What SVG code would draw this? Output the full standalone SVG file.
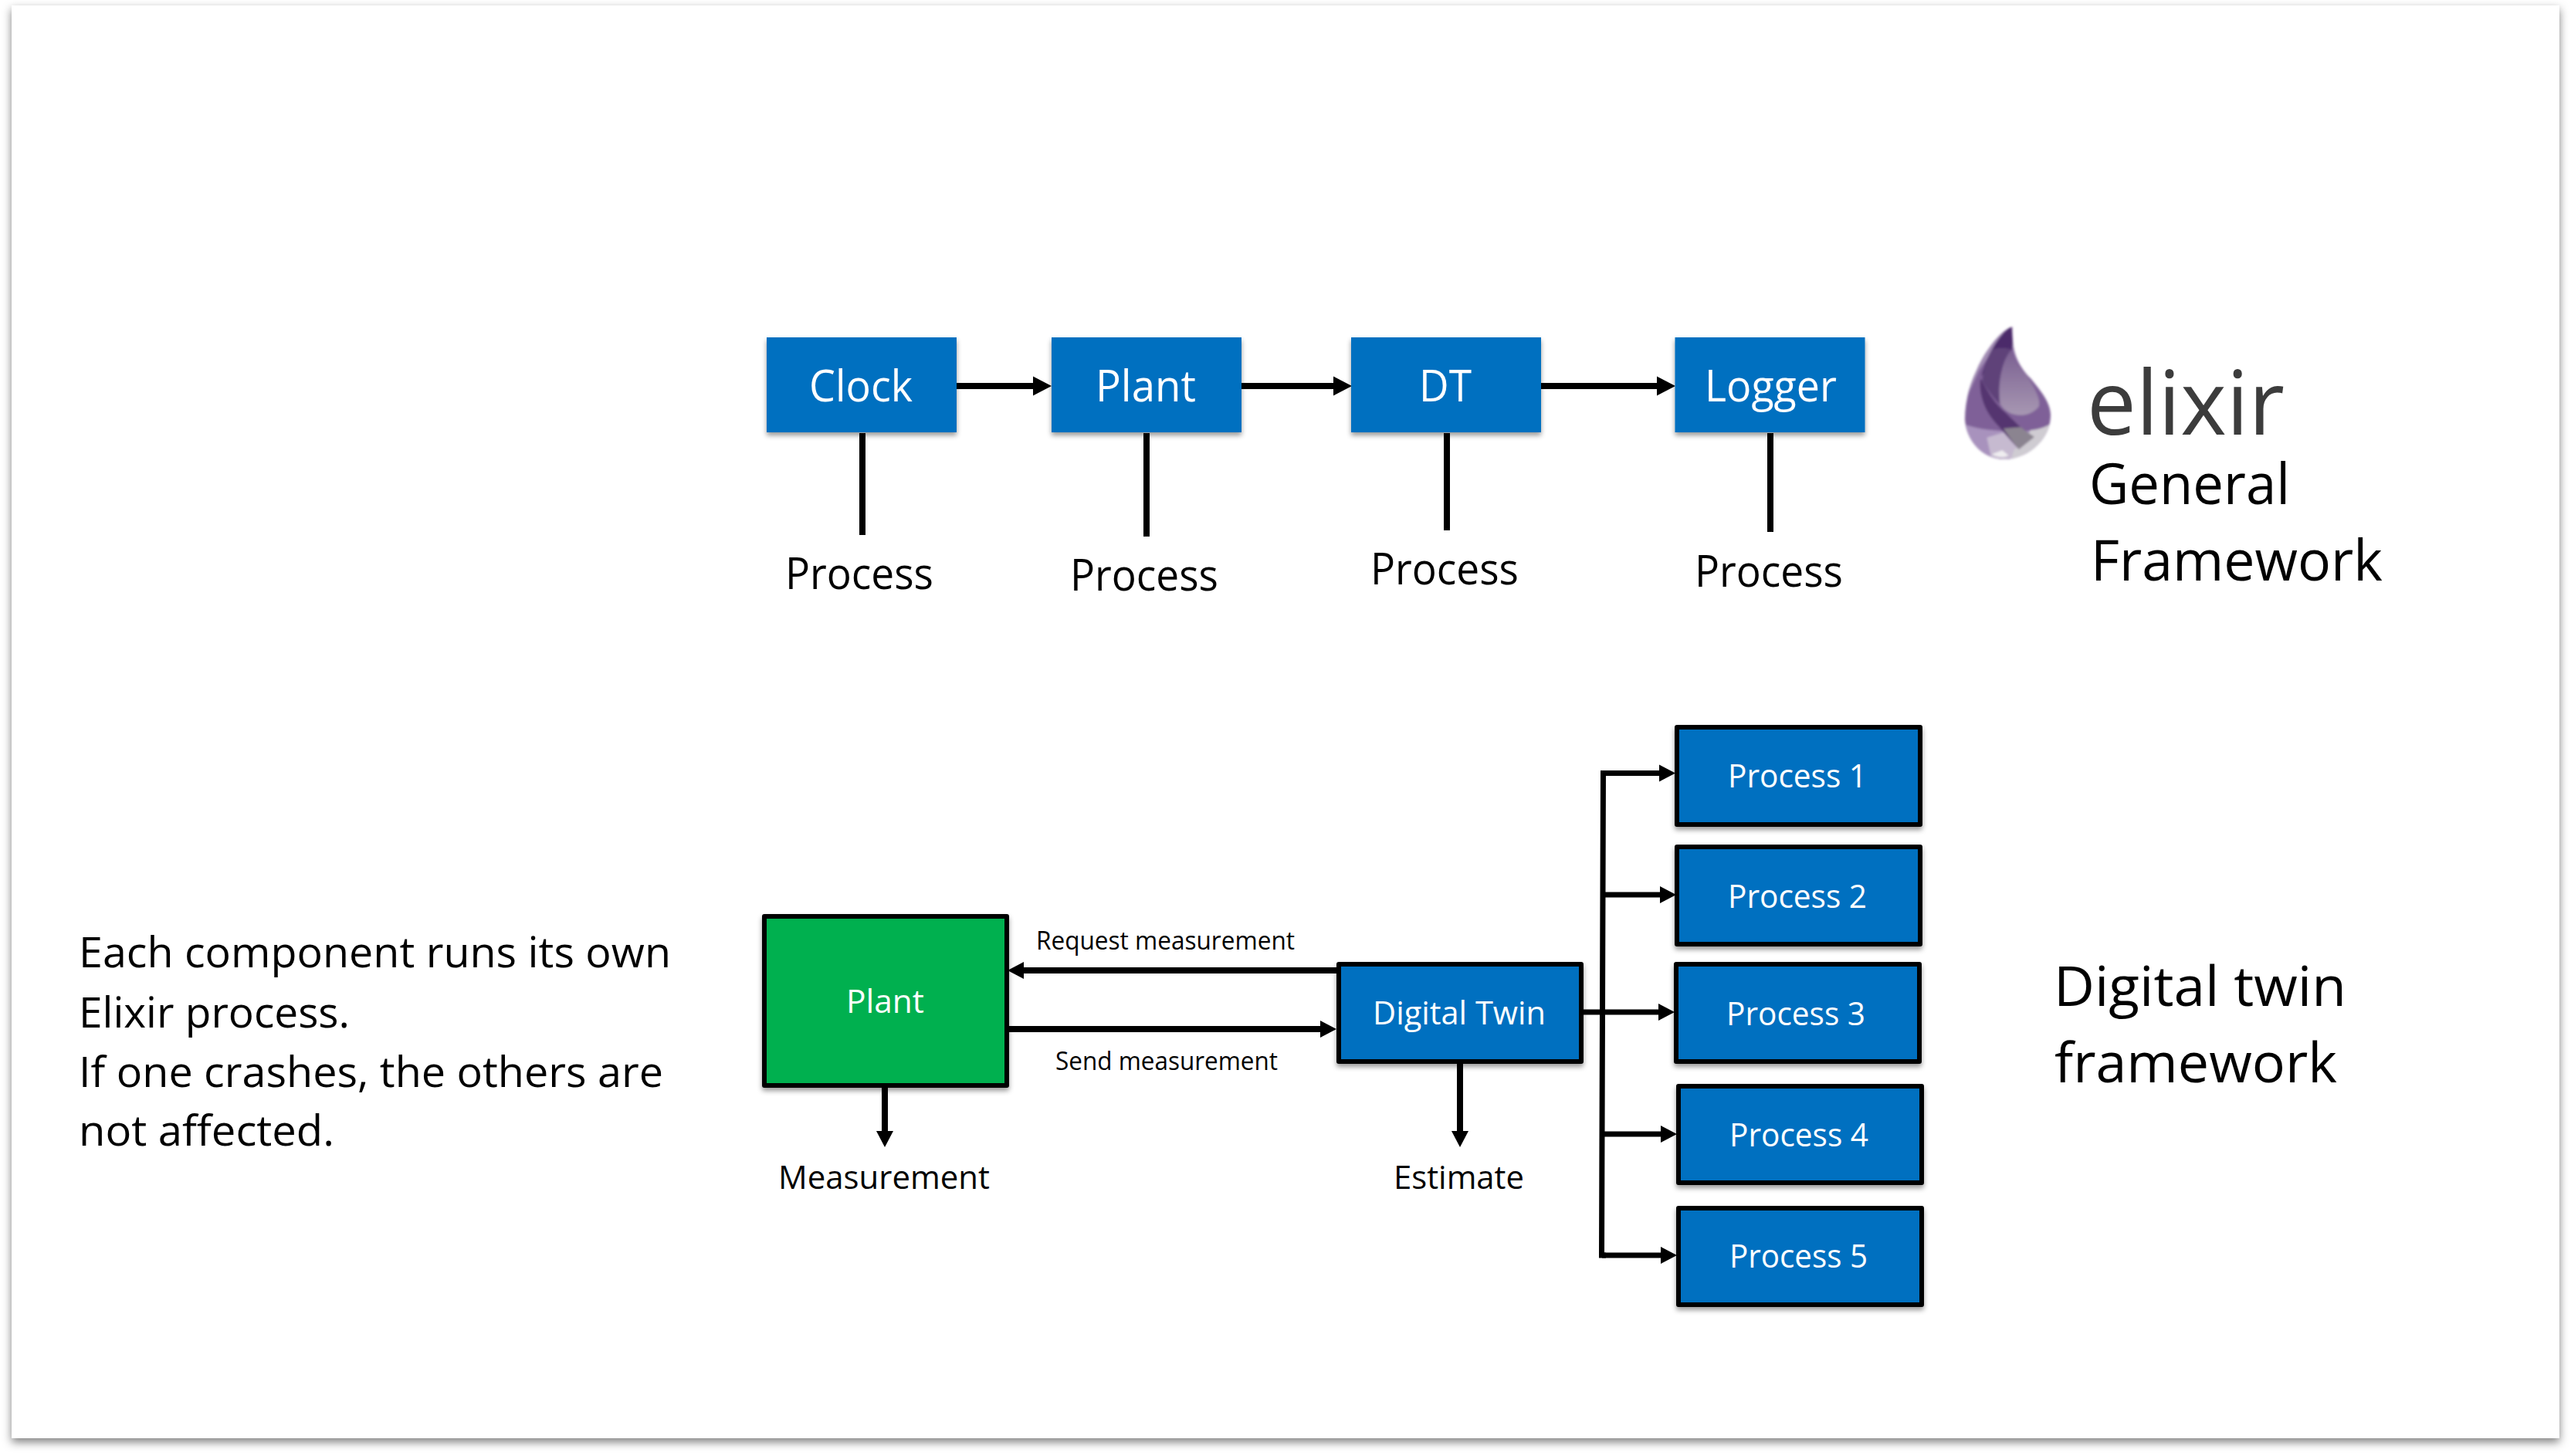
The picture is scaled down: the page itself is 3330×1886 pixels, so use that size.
<svg xmlns="http://www.w3.org/2000/svg" width="3330" height="1886" viewBox="0 0 3330 1886">
<style>
text{font-family:"Open Sans","Noto Sans","Liberation Sans",sans-serif;fill:#000}
.w{fill:#fff}
.box{fill:#0070c0;filter:url(#sh)}
.bk{stroke:#000;stroke-width:6;stroke-linejoin:round}
.gr{fill:#00b050}
.c{fill:none;stroke:#000;stroke-width:8}
.t{marker-end:url(#big)}
.s{marker-end:url(#small)}
.f{stroke-width:7}
</style>
<defs>
<filter id="page" x="-3%" y="-3%" width="106%" height="106%"><feDropShadow dx="0" dy="5" stdDeviation="6" flood-color="#000" flood-opacity="0.5"/></filter>
<filter id="sh" x="-10%" y="-10%" width="120%" height="130%"><feDropShadow dx="0" dy="4" stdDeviation="3" flood-color="#000" flood-opacity="0.4"/></filter>
<filter id="soft" x="-8%" y="-8%" width="116%" height="116%"><feGaussianBlur stdDeviation="4"/></filter>
<linearGradient id="blob" x1="0" y1="0" x2="0" y2="1"><stop offset="0" stop-color="#7a5f91"/><stop offset="1" stop-color="#a797b2"/></linearGradient>
<marker id="big" markerUnits="userSpaceOnUse" markerWidth="26" markerHeight="26" refX="1" refY="13" orient="auto"><path d="M1,0.5 L25,13 L1,25.5 Z" fill="#000"/></marker>
<marker id="small" markerUnits="userSpaceOnUse" markerWidth="24" markerHeight="24" refX="1" refY="12" orient="auto"><path d="M1,1 L22,12 L1,23 Z" fill="#000"/></marker>
<clipPath id="dropclip"><path d="M230,40 C190,50 130,120 90,210 C60,270 45,340 45,400 C50,480 110,555 200,555 C300,550 380,470 378,380 C375,330 340,290 300,240 C250,190 225,130 230,40 Z"/></clipPath>
</defs>

<rect id="slide" x="15" y="7" width="3300" height="1856" fill="#fff" filter="url(#page)"/>

<g id="connectors">
<path class="c t" d="M1239,500 H1338"/>
<path class="c t" d="M1608,500 H1727"/>
<path class="c t" d="M1996,500 H2146"/>
<path class="c" d="M1117,561 V693"/>
<path class="c" d="M1485,561 V695"/>
<path class="c" d="M1874,561 V687"/>
<path class="c" d="M2293,561 V689"/>
<path class="c s" d="M1731,1257 H1326"/>
<path class="c s" d="M1307,1333 H1710"/>
<path class="c s" d="M1146,1409 V1465"/>
<path class="c s" d="M1891,1378 V1465"/>
<path class="c f" d="M2080,1001.500 H2076.500 L2074.500,1626 H2080"/>
<path class="c f s" d="M2076,1001.500 H2149"/>
<path class="c f s" d="M2077,1159 H2150"/>
<path class="c f s" d="M2051,1311 H2148"/>
<path class="c f s" d="M2075,1469 H2151"/>
<path class="c f s" d="M2075,1626 H2151"/>
</g>

<g id="clock"><rect class="box" x="993" y="437" width="246" height="123"/><text class="w" x="1048" y="520" font-size="56" textLength="134" lengthAdjust="spacingAndGlyphs">Clock</text></g>
<g id="plant-top"><rect class="box" x="1362" y="437" width="246" height="123"/><text class="w" x="1419" y="520" font-size="56" textLength="130" lengthAdjust="spacingAndGlyphs">Plant</text></g>
<g id="dt"><rect class="box" x="1750" y="437" width="246" height="123"/><text class="w" x="1838" y="520" font-size="56" textLength="68" lengthAdjust="spacingAndGlyphs">DT</text></g>
<g id="logger"><rect class="box" x="2169.500" y="437" width="246" height="123"/><text class="w" x="2208" y="520" font-size="56" textLength="171" lengthAdjust="spacingAndGlyphs">Logger</text></g>

<g id="process-labels">
<text x="1017" y="763" font-size="56" textLength="192" lengthAdjust="spacingAndGlyphs">Process</text>
<text x="1386" y="765" font-size="56" textLength="192" lengthAdjust="spacingAndGlyphs">Process</text>
<text x="1775" y="757" font-size="56" textLength="192" lengthAdjust="spacingAndGlyphs">Process</text>
<text x="2195" y="760" font-size="56" textLength="192" lengthAdjust="spacingAndGlyphs">Process</text>
</g>

<g id="logo">
<g transform="translate(2530,410) scale(0.33333)" filter="url(#soft)">
<g clip-path="url(#dropclip)">
<rect x="30" y="30" width="370" height="540" fill="#7f6098"/>
<path d="M240,30 L200,60 L100,210 L40,340 L30,300 V30 Z" fill="#a18bb3"/>
<path d="M232,120 C240,170 270,210 305,245 L400,350 V30 H232 Z" fill="#bdaecb"/>
<path d="M225,40 C185,60 135,140 108,235 C125,205 155,170 180,195 C195,150 215,120 228,130 C232,100 232,70 225,40 Z" fill="#4c2a6b"/>
<path d="M150,130 C125,170 118,210 112,250 C135,290 160,320 180,340 C172,270 185,170 228,130 C205,120 175,120 150,130 Z" fill="#5f4279"/>
<path d="M225,130 C190,170 172,260 182,340 C210,392 290,400 332,350 C342,320 310,270 285,228 C250,195 235,165 225,130 Z" fill="url(#blob)"/>
<path d="M30,415 C110,445 200,448 290,445 C330,440 360,430 400,405 V570 H30 Z" fill="#a892bd"/>
<path d="M130,470 L230,440 L260,520 L220,560 H150 Z" fill="#c6bad0"/>
<path d="M235,520 C270,490 285,465 300,442 C340,438 360,430 400,405 V570 H220 Z" fill="#cfccd2"/>
<path d="M105,240 C98,300 120,370 175,425 C200,455 230,490 255,515 L310,470 C280,450 250,420 205,375 C150,330 130,280 105,240 Z" fill="#553670"/>
<path d="M195,435 C215,465 235,495 255,515 L315,468 C295,455 280,445 262,430 Z" fill="#8b8490"/>
<path d="M150,535 C170,550 200,548 215,540 L190,520 Z" fill="#efedf0"/>
</g>
</g>
<text x="2703" y="563" font-size="116" font-weight="500" textLength="256" lengthAdjust="spacingAndGlyphs" style="fill:#3c3c3c">elixir</text>
</g>

<g id="general-framework-label" font-size="74">
<text x="2706" y="653" textLength="260" lengthAdjust="spacingAndGlyphs">General</text>
<text x="2708" y="752" textLength="378" lengthAdjust="spacingAndGlyphs">Framework</text>
</g>

<g id="description" font-size="54">
<text x="102" y="1253" textLength="767" lengthAdjust="spacingAndGlyphs">Each component runs its own</text>
<text x="102" y="1331" textLength="351" lengthAdjust="spacingAndGlyphs">Elixir process.</text>
<text x="102" y="1408" textLength="757" lengthAdjust="spacingAndGlyphs">If one crashes, the others are</text>
<text x="102" y="1484" textLength="331" lengthAdjust="spacingAndGlyphs">not affected.</text>
</g>

<g id="plant"><rect class="gr bk" style="filter:url(#sh)" x="990" y="1187" width="314" height="219"/><text class="w" x="1096" y="1312" font-size="42" textLength="101" lengthAdjust="spacingAndGlyphs">Plant</text></g>
<g id="digital-twin"><rect class="box bk" x="1734" y="1249" width="314" height="126"/><text class="w" x="1778" y="1327" font-size="42" textLength="224" lengthAdjust="spacingAndGlyphs">Digital Twin</text></g>

<g id="edge-labels">
<text x="1342" y="1230" font-size="32" textLength="335" lengthAdjust="spacingAndGlyphs">Request measurement</text>
<text x="1367" y="1386" font-size="32" textLength="288" lengthAdjust="spacingAndGlyphs">Send measurement</text>
<text x="1008" y="1540" font-size="42" textLength="274" lengthAdjust="spacingAndGlyphs">Measurement</text>
<text x="1805" y="1540" font-size="42" textLength="169" lengthAdjust="spacingAndGlyphs">Estimate</text>
</g>

<g id="process-1"><rect class="box bk" x="2172" y="942" width="315" height="126"/><text class="w" x="2238" y="1020" font-size="42" textLength="180" lengthAdjust="spacingAndGlyphs">Process 1</text></g>
<g id="process-2"><rect class="box bk" x="2172" y="1097" width="315" height="126"/><text class="w" x="2238" y="1176" font-size="42" textLength="180" lengthAdjust="spacingAndGlyphs">Process 2</text></g>
<g id="process-3"><rect class="box bk" x="2171" y="1249" width="315" height="126"/><text class="w" x="2236" y="1328" font-size="42" textLength="180" lengthAdjust="spacingAndGlyphs">Process 3</text></g>
<g id="process-4"><rect class="box bk" x="2174" y="1407" width="315" height="125"/><text class="w" x="2240" y="1485" font-size="42" textLength="180" lengthAdjust="spacingAndGlyphs">Process 4</text></g>
<g id="process-5"><rect class="box bk" x="2174" y="1565" width="315" height="125"/><text class="w" x="2240" y="1642" font-size="42" textLength="179" lengthAdjust="spacingAndGlyphs">Process 5</text></g>

<g id="digital-twin-label" font-size="72">
<text x="2660" y="1303" textLength="379" lengthAdjust="spacingAndGlyphs">Digital twin</text>
<text x="2661" y="1402" textLength="366" lengthAdjust="spacingAndGlyphs">framework</text>
</g>
</svg>
